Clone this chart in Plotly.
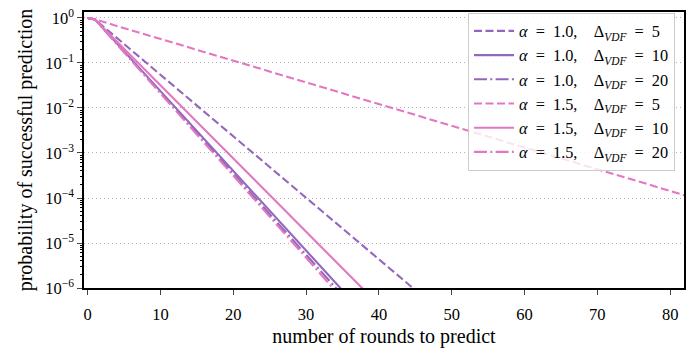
import plotly.graph_objects as go

# ---- data ----
rounds = [0, 1, 82]
p_a10_d5 = [1.0, 0.93, 7.9e-12]
p_a10_d10 = [1.0, 0.93, 4.2e-15]
p_a10_d20 = [1.0, 0.93, 2.3e-15]
p_a15_d5 = [1.0, 0.93, 1.15e-4]
p_a15_d10 = [1.0, 0.93, 6.2e-14]
p_a15_d20 = [1.0, 0.93, 1.5e-15]

alphas = ["1.0", "1.0", "1.0", "1.5", "1.5", "1.5"]
deltas = ["5", "10", "20", "5", "10", "20"]
EQ = "\u00a0\u00a0=\u00a0\u00a0"
GAP = "\u2002\u2002"
labels = [f"<i>α</i>{EQ}{a},{GAP}Δ<sub><i>VDF</i></sub>{EQ}{d}"
          for a, d in zip(alphas, deltas)]
series = [p_a10_d5, p_a10_d10, p_a10_d20, p_a15_d5, p_a15_d10, p_a15_d20]

x_ticks = [0, 10, 20, 30, 40, 50, 60, 70, 80]
y_tickvals = [1e-6, 1e-5, 1e-4, 1e-3, 1e-2, 1e-1, 1e0]
y_ticktext = ["10<sup>−6</sup>", "10<sup>−5</sup>", "10<sup>−4</sup>", "10<sup>−3</sup>",
              "10<sup>−2</sup>", "10<sup>−1</sup>", "10<sup>0</sup>"]

PURPLE = "#9467bd"
PINK = "#e377c2"
colors = [PURPLE, PURPLE, PURPLE, PINK, PINK, PINK]
DASHED = "8px,3.5px"
DASHDOT = "13px,3.3px,2px,3.3px"
dashes = [DASHED, "solid", DASHDOT, DASHED, "solid", DASHDOT]

fig = go.Figure()
for lab, ys, c, d in zip(labels, series, colors, dashes):
    fig.add_trace(go.Scatter(x=rounds, y=ys, mode="lines", name=lab,
                             line=dict(color=c, width=2.1, dash=d)))

minor_vals = []
for e in range(-6, 1):
    for k in range(2, 10):
        v = k * 10.0 ** e
        if v <= 1.36:
            minor_vals.append(v)

FONT = "Liberation Serif"
FS = 16.5
fig.update_layout(
    width=699, height=351,
    margin=dict(l=84, r=15, t=7, b=52),
    plot_bgcolor="white", paper_bgcolor="white",
    font=dict(family=FONT, size=FS, color="black"),
    showlegend=True,
    legend=dict(x=0.985, y=0.997, xanchor="right", yanchor="top",
                bgcolor="rgba(255,255,255,0.8)", bordercolor="#cccccc", borderwidth=1,
                font=dict(family=FONT, size=16.3), itemwidth=40, tracegroupgap=0),
    xaxis=dict(range=[-0.5, 81.9], tickvals=x_ticks, ticks="outside", ticklen=5, tickwidth=1.2,
               showline=True, linecolor="black", linewidth=1.5, mirror=True, showgrid=False,
               zeroline=False, ticklabelstandoff=5,
               title=dict(text="number of rounds to predict", standoff=6),
               tickfont=dict(family=FONT, size=FS)),
    yaxis=dict(type="log", range=[-6, 0.133], tickvals=y_tickvals, ticktext=y_ticktext,
               ticks="outside", ticklen=5, tickwidth=1.2,
               showline=True, linecolor="black", linewidth=1.5, mirror=True,
               showgrid=True, gridcolor="#b0b0b0", griddash="1px,3px", gridwidth=1,
               zeroline=False,
               minor=dict(tickvals=minor_vals, ticks="outside", ticklen=2.5, tickwidth=0.8,
                          tickcolor="black", showgrid=False),
               title=dict(text="probability of successful prediction", standoff=7),
               tickfont=dict(family=FONT, size=FS)),
)

fig.write_html("out.html")
